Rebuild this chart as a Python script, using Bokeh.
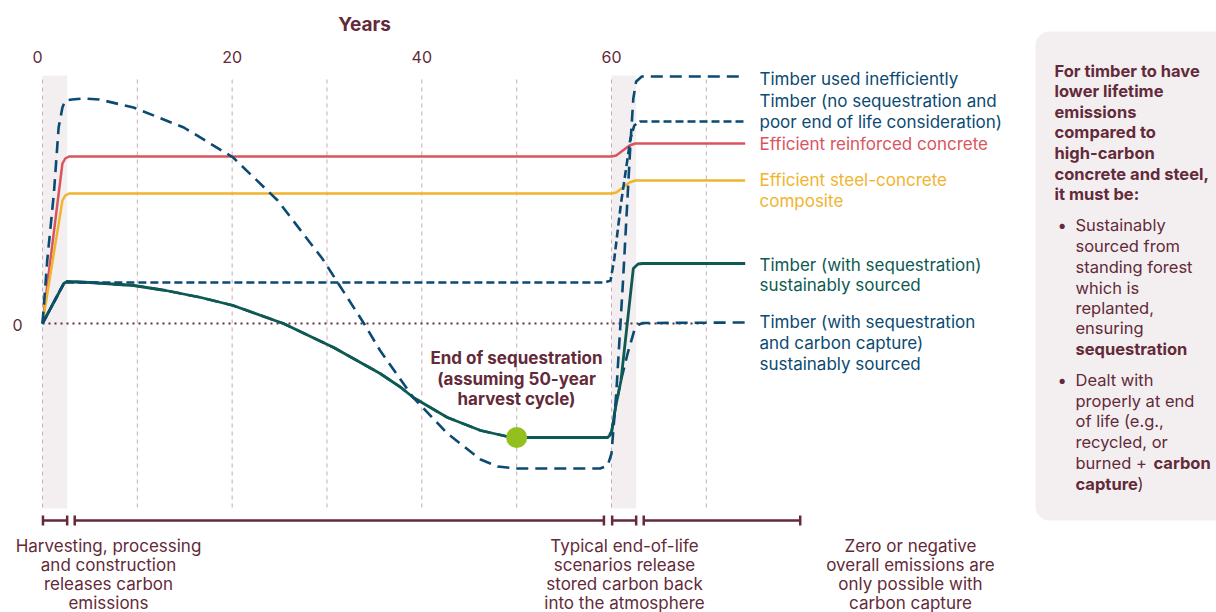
from bokeh.plotting import figure
from bokeh.models import Range1d, ColumnDataSource, BoxAnnotation
from bokeh.core.properties import value
from bokeh.embed import file_html
from bokeh.resources import INLINE

# ---------------- data ----------------
years_concrete = [0, 2.1, 2.4, 2.8, 60, 60.5, 61.2, 61.9, 62.5, 74.1]
concrete = [0, 16.0, 16.5, 16.7, 16.7, 16.8, 17.3, 17.8, 18.0, 18.0]
years_steel = [0, 2.1, 2.4, 2.8, 60, 60.5, 61.2, 61.9, 62.5, 74.1]
steel = [0, 12.3, 12.8, 13.0, 13.0, 13.1, 13.6, 14.1, 14.3, 14.3]

years_ineff = [0, 0.5, 1.2, 1.7, 2.1, 2.4, 3.1, 4.2, 6.0, 9.6, 14.9, 20.1, 24.8, 29.5,
               33.9, 35.6, 39.1, 42.7, 46.2, 48.0, 50.0, 55.0, 58.8, 59.6, 60.0, 60.5,
               61.2, 62.0, 62.3, 62.6, 63.2, 74.1]
ineff = [0, 6.3, 13.0, 19.6, 21.6, 22.3, 22.4, 22.5, 22.4, 21.6, 19.6, 16.6, 12.3, 6.5,
         0.0, -2.7, -7.4, -11.0, -13.6, -14.3, -14.5, -14.5, -14.5, -14.2, -13.0, -7.0,
         4.0, 18.0, 22.5, 24.2, 24.7, 24.7]

years_noseq = [0, 2.25, 2.6, 59.3, 59.9, 60.3, 61.0, 62.0, 62.4, 63.0, 74.1]
noseq = [0, 4.0, 4.1, 4.1, 4.3, 6.5, 12.0, 18.5, 19.8, 20.2, 20.2]

years_seq = [0, 2.25, 2.6, 5.0, 9.6, 13.0, 16.7, 20.1, 25.4, 30.7, 35.6, 37.8, 39.1,
             42.7, 46.2, 49.0, 50.0, 55.0, 59.6, 60.0, 60.4, 61.0, 62.3, 62.8, 63.3, 74.1]
seq = [0, 4.0, 4.2, 4.1, 3.8, 3.3, 2.6, 1.8, 0.0, -2.4, -5.0, -6.4, -7.4,
       -9.4, -10.7, -11.3, -11.4, -11.4, -11.4, -11.0, -8.5, -5.7, 5.5, 5.95, 6.0, 6.0]

years_ccs = [0, 2.25, 2.6, 5.0, 9.6, 13.0, 16.7, 20.1, 25.4, 30.7, 35.6, 37.8, 39.1,
             42.7, 46.2, 49.0, 50.0, 55.0, 59.6, 60.0, 60.5, 61.0, 61.7, 62.4, 62.9, 63.3, 74.1]
ccs = [0, 4.0, 4.2, 4.1, 3.8, 3.3, 2.6, 1.8, 0.0, -2.4, -5.0, -6.4, -7.4,
       -9.4, -10.7, -11.3, -11.4, -11.4, -11.4, -10.8, -8.0, -5.7, -3.0, -0.7, -0.1, 0.05, 0.1]

harvest_end_year = [50]
harvest_end_value = [-11.4]

grid_years = [0, 10, 20, 30, 40, 50, 60, 70]
tick_years = [0, 20, 40, 60]
tick_labels = ["0", "20", "40", "60"]
band_starts = [0, 60]
band_ends = [2.6, 62.6]
phase_starts = [0.05, 3.4, 60.07, 63.4]
phase_ends = [2.6, 59.2, 62.6, 79.9]

# ---------------- styling ----------------
NAVY = "#0b4a72"
RED = "#d9555d"
YEL = "#f1b42e"
GREEN = "#0e5a52"
LIME = "#93c01f"
MAROON = "#632a39"
GRID = "#c7abb2"
BAND = "#f3eff0"
FONT = value("Inter")

SX = 569 / 60.0
X0PX, Y0PX, SY = 42.0, 323.0, 10.0
W, H = 1216, 612


def dx(px):
    return (px - X0PX) / SX


def dy(py):
    return (Y0PX - py) / SY


p = figure(width=W, height=H, x_range=Range1d(dx(0), dx(W)),
           y_range=Range1d(dy(H), dy(0)), output_backend="svg",
           toolbar_location=None, x_axis_location=None, y_axis_location=None,
           min_border=0, outline_line_color=None)
p.grid.visible = False
p.background_fill_color = "white"
p.border_fill_color = "white"

# right info box
p.add_layout(BoxAnnotation(left=dx(1035), right=dx(1250), top=dy(31), bottom=dy(520),
                           fill_color=BAND, fill_alpha=1, line_color=None,
                           border_radius=14, level="underlay"))

# bands
p.quad(left=band_starts, right=band_ends, bottom=dy(508), top=dy(75),
       fill_color=BAND, line_color=None)

# gridlines
p.segment(x0=grid_years, x1=grid_years, y0=dy(507), y1=dy(76),
          line_color=GRID, line_width=1, line_dash="4 4")

# zero line
p.line(x=[0, 70], y=[0, 0], line_color=MAROON, line_width=2.2, line_dash="2 4")

# curves
p.line(years_concrete, concrete, line_color=RED, line_width=2.5)
p.line(years_steel, steel, line_color=YEL, line_width=2.5)
p.line(years_ccs, ccs, line_color=NAVY, line_width=2.6, line_dash="12 7")
p.line(years_seq, seq, line_color=GREEN, line_width=2.8)
p.line(years_noseq, noseq, line_color=NAVY, line_width=2.6, line_dash="8 4")
p.line(years_ineff, ineff, line_color=NAVY, line_width=2.6, line_dash="12 7")
p.scatter(harvest_end_year, harvest_end_value, size=21, color=LIME, line_color=None)

# phase brackets
by = dy(520)
p.segment(x0=phase_starts, x1=phase_ends, y0=by, y1=by, line_color=MAROON, line_width=2.5)
p.segment(x0=phase_starts + phase_ends, x1=phase_starts + phase_ends,
          y0=by - 0.5, y1=by + 0.5, line_color=MAROON, line_width=2.5)


def txt(xs, ys, texts, color=MAROON, size="17px", align="left", bold=False):
    src = ColumnDataSource(dict(x=xs, y=ys, t=texts))
    p.text(x="x", y="y", text="t", source=src, text_font=FONT, text_font_size=size,
           text_color=color, text_align=align, text_baseline="middle",
           text_font_style="bold" if bold else "normal")


# top axis
txt([dx(364)], [dy(24)], ["Years"], size="19px", align="center", bold=True)
txt(tick_years[1:], [dy(56)] * 3, tick_labels[1:], size="16px", align="center")
txt([dx(37)], [dy(56)], tick_labels[:1], size="16px", align="center")
txt([dx(17)], [dy(324)], ["0"], size="16px", align="center")

# legend labels
leg = [("Timber used inefficiently", 78, NAVY),
       ("Timber (no sequestration and", 100, NAVY),
       ("poor end of life consideration)", 121, NAVY),
       ("Efficient reinforced concrete", 143, RED),
       ("Efficient steel-concrete", 179, YEL),
       ("composite", 200, YEL),
       ("Timber (with sequestration)", 264, GREEN),
       ("sustainably sourced", 284, GREEN),
       ("Timber (with sequestration", 321, NAVY),
       ("and carbon capture)", 342, NAVY),
       ("sustainably sourced", 363, NAVY)]
for t, y, c in leg:
    txt([dx(759)], [dy(y)], [t], color=c)

# annotation
txt([dx(516)] * 3, [dy(357), dy(378), dy(398)],
    ["End of sequestration", "(assuming 50-year", "harvest cycle)"],
    align="center", bold=True)

# bottom notes
rows = [dy(545), dy(564), dy(583), dy(602)]
txt([dx(108)] * 4, rows, ["Harvesting, processing", "and construction",
                          "releases carbon", "emissions"], align="center")
txt([dx(624)] * 4, rows, ["Typical end-of-life", "scenarios release",
                          "stored carbon back", "into the atmosphere"], align="center")
txt([dx(910)] * 4, rows, ["Zero or negative", "overall emissions are",
                          "only possible with", "carbon capture"], align="center")

# info box text
BS = "16.5px"
head = ["For timber to have", "lower lifetime", "emissions", "compared to",
        "high-carbon", "concrete and steel,", "it must be:"]
txt([dx(1054)] * len(head), [dy(70 + 20.6 * i) for i in range(len(head))], head,
    size=BS, bold=True)
txt([dx(1057)] * 2, [dy(224), dy(379)], ["•", "•"], size=BS)
b1 = ["Sustainably", "sourced from", "standing forest", "which is", "replanted,", "ensuring"]
b1y = [224, 245, 266, 287, 307, 327]
txt([dx(1075)] * len(b1), [dy(v) for v in b1y], b1, size=BS)
txt([dx(1075)], [dy(348)], ["sequestration"], size=BS, bold=True)
b2 = ["Dealt with", "properly at end", "of life (e.g.,", "recycled, or", "burned +"]
b2y = [379, 400, 420, 441, 462]
txt([dx(1075)] * len(b2), [dy(v) for v in b2y], b2, size=BS)
txt([dx(1153)], [dy(462)], ["carbon"], size=BS, bold=True)
txt([dx(1075)], [dy(483)], ["capture"], size=BS, bold=True)
txt([dx(1137)], [dy(483)], [")"], size=BS)

open("out.html", "w").write(file_html(p, INLINE))
